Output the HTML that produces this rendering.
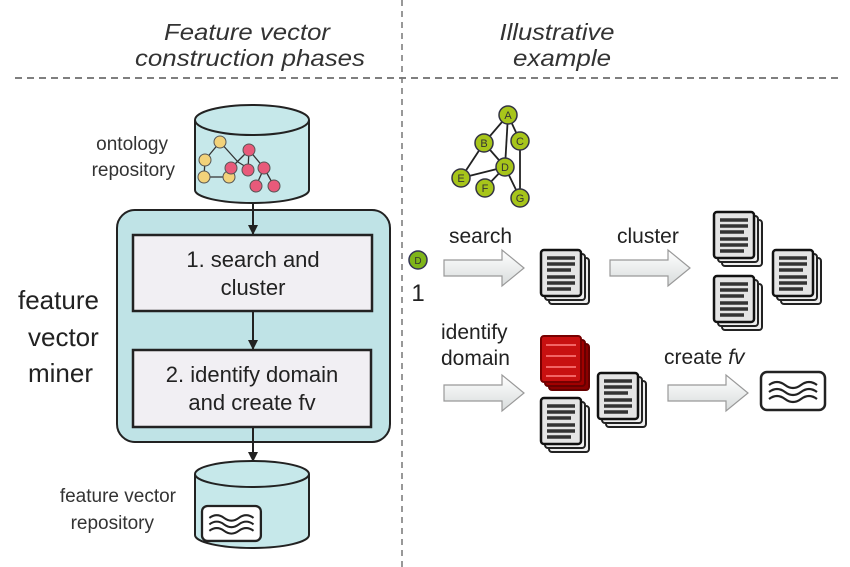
<!DOCTYPE html>
<html><head><meta charset="utf-8"><style>
html,body{margin:0;padding:0;background:#fff;}
svg{display:block;font-family:"Liberation Sans",Arial,sans-serif;}
</style></head><body>
<svg width="850" height="567" viewBox="0 0 850 567" xmlns="http://www.w3.org/2000/svg">
<defs>
<marker id="ah" markerWidth="10" markerHeight="10" refX="9" refY="5" orient="auto" markerUnits="userSpaceOnUse">
<path d="M0,0 L10,5 L0,10 z" fill="#222"/></marker>
<linearGradient id="ag" x1="0" y1="0" x2="0" y2="1"><stop offset="0" stop-color="#fff"/><stop offset="1" stop-color="#d8dcdc"/></linearGradient>
<g id="doc">
<rect x="8" y="8" width="40" height="46" rx="3" fill="#eee" stroke="#222" stroke-width="2"/>
<rect x="4" y="4" width="40" height="46" rx="3" fill="#eee" stroke="#222" stroke-width="2"/>
<rect x="0" y="0" width="40" height="46" rx="3" fill="#e4e4e4" stroke="#111" stroke-width="2.5"/>
<g stroke="#333" stroke-width="3.5"><line x1="6" y1="8" x2="34" y2="8"/><line x1="6" y1="14" x2="34" y2="14"/><line x1="6" y1="20" x2="30" y2="20"/><line x1="6" y1="27" x2="34" y2="27"/><line x1="6" y1="33" x2="34" y2="33"/><line x1="6" y1="39" x2="30" y2="39"/></g>
</g>
<g id="bigarrow"><path d="M0,-8 L58,-8 L58,-18 L80,0 L58,18 L58,8 L0,8 z" fill="url(#ag)" stroke="#999" stroke-width="1.2"/></g>
<g id="fvicon">
<rect x="0" y="0" width="64" height="38" rx="6" fill="#fff" stroke="#222" stroke-width="2.5"/>
<g fill="none" stroke="#222" stroke-width="2.2"><path d="M8,13 q8,-6 16,0 t16,0 t16,0"/><path d="M8,20 q8,-6 16,0 t16,0 t16,0"/><path d="M8,27 q8,-6 16,0 t16,0 t16,0"/></g>
</g>
</defs>

<g font-style="italic" font-size="23" fill="#333" text-anchor="middle">
<text x="247" y="40" textLength="166" lengthAdjust="spacingAndGlyphs">Feature vector</text>
<text x="250" y="66" textLength="230" lengthAdjust="spacingAndGlyphs">construction phases</text>
<text x="557" y="40" textLength="115" lengthAdjust="spacingAndGlyphs">Illustrative</text>
<text x="562" y="66" textLength="98" lengthAdjust="spacingAndGlyphs">example</text>
</g>
<line x1="15" y1="78" x2="842" y2="78" stroke="#555" stroke-width="1.5" stroke-dasharray="7,5"/>
<line x1="402" y1="0" x2="402" y2="567" stroke="#777" stroke-width="1.5" stroke-dasharray="6,5"/>

<path d="M195,120 L195,190 A57,13 0 0 0 309,190 L309,120" fill="#c6e8ea" stroke="#222" stroke-width="2"/>
<ellipse cx="252" cy="120" rx="57" ry="15" fill="#c6e8ea" stroke="#222" stroke-width="2"/>
<g stroke="#333" stroke-width="1.3">
<line x1="220" y1="142" x2="205" y2="160"/><line x1="220" y1="142" x2="238" y2="162"/><line x1="205" y1="160" x2="204" y2="177"/><line x1="204" y1="177" x2="229" y2="177"/><line x1="238" y1="162" x2="251" y2="170"/><line x1="249" y1="150" x2="231" y2="168"/><line x1="249" y1="150" x2="264" y2="168"/><line x1="249" y1="150" x2="248" y2="170"/><line x1="264" y1="168" x2="256" y2="186"/><line x1="264" y1="168" x2="274" y2="186"/><line x1="229" y1="177" x2="231" y2="168"/>
</g>
<g stroke="#555" stroke-width="1">
<circle cx="220" cy="142" r="6" fill="#f2d27a"/><circle cx="205" cy="160" r="6" fill="#f2d27a"/><circle cx="204" cy="177" r="6" fill="#f2d27a"/><circle cx="229" cy="177" r="6" fill="#f2d27a"/>
<circle cx="249" cy="150" r="6" fill="#e85a7a"/><circle cx="231" cy="168" r="6" fill="#e85a7a"/><circle cx="248" cy="170" r="6" fill="#e85a7a"/><circle cx="264" cy="168" r="6" fill="#e85a7a"/><circle cx="256" cy="186" r="6" fill="#e85a7a"/><circle cx="274" cy="186" r="6" fill="#e85a7a"/>
</g>
<g font-size="19" fill="#333" text-anchor="end">
<text x="168" y="150">ontology</text>
<text x="175" y="176">repository</text>
</g>

<rect x="117" y="210" width="273" height="232" rx="18" fill="#bfe3e6" stroke="#222" stroke-width="2"/>
<rect x="133" y="235" width="239" height="76" fill="#f1eff3" stroke="#222" stroke-width="2.5"/>
<rect x="133" y="350" width="238" height="77" fill="#f1eff3" stroke="#222" stroke-width="2.5"/>
<g font-size="22" fill="#222" text-anchor="middle">
<text x="253" y="267">1. search and</text>
<text x="253" y="295">cluster</text>
<text x="252" y="382">2. identify domain</text>
<text x="252" y="410">and create fv</text>
</g>
<g font-size="26" fill="#222">
<text x="18" y="309">feature</text>
<text x="28" y="346">vector</text>
<text x="28" y="382">miner</text>
</g>
<g stroke="#222" stroke-width="2" marker-end="url(#ah)">
<line x1="253" y1="203" x2="253" y2="234"/>
<line x1="253" y1="311" x2="253" y2="349"/>
<line x1="253" y1="427" x2="253" y2="461"/>
</g>

<path d="M195,474 L195,535 A57,13 0 0 0 309,535 L309,474" fill="#c6e8ea" stroke="#222" stroke-width="2"/>
<ellipse cx="252" cy="474" rx="57" ry="13" fill="#c6e8ea" stroke="#222" stroke-width="2"/>
<g transform="translate(202,506) scale(0.92)"><use href="#fvicon"/></g>
<g font-size="19" fill="#333" text-anchor="end">
<text x="176" y="502">feature vector</text>
<text x="154" y="529">repository</text>
</g>

<g stroke="#222" stroke-width="1.8">
<line x1="508" y1="115" x2="484" y2="143"/><line x1="508" y1="115" x2="520" y2="141"/><line x1="508" y1="115" x2="505" y2="167"/>
<line x1="484" y1="143" x2="505" y2="167"/><line x1="484" y1="143" x2="461" y2="178"/><line x1="461" y1="178" x2="505" y2="167"/>
<line x1="505" y1="167" x2="485" y2="188"/><line x1="505" y1="167" x2="520" y2="198"/><line x1="520" y1="141" x2="520" y2="198"/>
</g>
<g fill="#a7c51a" stroke="#334" stroke-width="1.5">
<circle cx="508" cy="115" r="9"/><circle cx="484" cy="143" r="9"/><circle cx="520" cy="141" r="9"/><circle cx="505" cy="167" r="9"/><circle cx="461" cy="178" r="9"/><circle cx="485" cy="188" r="9"/><circle cx="520" cy="198" r="9"/>
</g>
<g font-size="11" fill="#333" text-anchor="middle">
<text x="508" y="119">A</text><text x="484" y="147">B</text><text x="520" y="145">C</text><text x="505" y="171">D</text><text x="461" y="182">E</text><text x="485" y="192">F</text><text x="520" y="202">G</text>
</g>

<circle cx="418" cy="260" r="9" fill="#7fb51a" stroke="#335" stroke-width="1.5"/>
<text x="418" y="264" font-size="10" text-anchor="middle" fill="#333">D</text>
<text x="418" y="301" font-size="24" text-anchor="middle" fill="#222">1</text>
<g font-size="21" fill="#222">
<text x="449" y="243">search</text>
<text x="617" y="243">cluster</text>
<text x="441" y="339">identify</text>
<text x="441" y="365">domain</text>
<text x="664" y="364">create <tspan font-style="italic">fv</tspan></text>
</g>
<use href="#bigarrow" x="444" y="268"/>
<use href="#bigarrow" x="610" y="268"/>
<use href="#bigarrow" x="444" y="393"/>
<use href="#bigarrow" x="668" y="393"/>
<use href="#doc" x="541" y="250"/>
<use href="#doc" x="714" y="212"/>
<use href="#doc" x="714" y="276"/>
<use href="#doc" x="773" y="250"/>
<g transform="translate(541,336)">
<rect x="8" y="8" width="40" height="46" rx="3" fill="#8a0000" stroke="#600" stroke-width="2"/>
<rect x="4" y="4" width="40" height="46" rx="3" fill="#a00000" stroke="#600" stroke-width="2"/>
<rect x="0" y="0" width="40" height="46" rx="3" fill="#c81010" stroke="#700" stroke-width="2"/>
<g stroke="#ff8080" stroke-width="1.5"><line x1="5" y1="9" x2="35" y2="9"/><line x1="5" y1="20" x2="35" y2="20"/><line x1="5" y1="31" x2="35" y2="31"/><line x1="5" y1="40" x2="35" y2="40"/></g>
</g>
<use href="#doc" x="541" y="398"/>
<use href="#doc" x="598" y="373"/>
<use href="#fvicon" x="761" y="372"/>
</svg>
</body></html>
